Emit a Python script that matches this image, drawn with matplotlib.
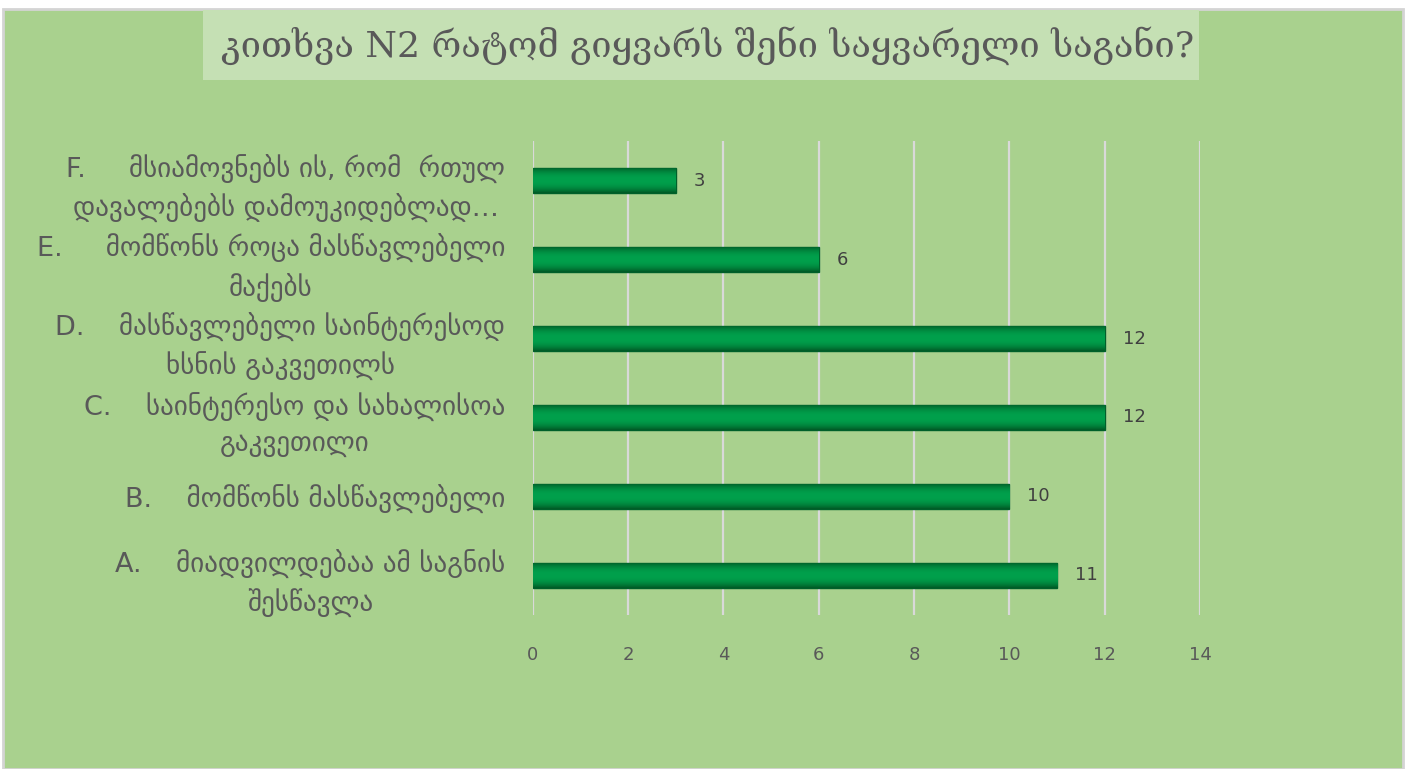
import numpy as np
import matplotlib.pyplot as plt
from matplotlib.patches import Rectangle
from matplotlib.colors import LinearSegmentedColormap

# question N2 - why do you like your favourite subject
categories = [
    "A.    მიადვილდებაა ამ საგნის\nშესწავლა",
    "B.    მომწონს მასწავლებელი",
    "C.    საინტერესო და სახალისოა\nგაკვეთილი",
    "D.    მასწავლებელი საინტერესოდ\nხსნის გაკვეთილს",
    "E.     მომწონს როცა მასწავლებელი\nმაქებს",
    "F.     მსიამოვნებს ის, რომ  რთულ\nდავალებებს დამოუკიდებლად…",
]
values = [11, 10, 12, 12, 6, 3]
xticks = [0, 2, 4, 6, 8, 10, 12, 14]
title = "კითხვა N2 რატომ გიყვარს შენი საყვარელი საგანი?"

plt.rcParams['font.family'] = ['DejaVu Sans']
text_col = '#595959'

fig = plt.figure(figsize=(14.06, 7.69), dpi=100)
fig.patch.set_facecolor('white')

# green chart area with thin grey frame
fig.add_artist(Rectangle((0.002, 0), 0.996, 0.988, transform=fig.transFigure,
                         facecolor='#A9D18E', edgecolor='#D4D4D4', linewidth=2,
                         zorder=-10))
# title box
fig.add_artist(Rectangle((0.1445, 0.896), 0.708, 0.091, transform=fig.transFigure,
                         facecolor='#C5E0B4', edgecolor='none', zorder=-9))
fig.text(0.5035, 0.941, title, ha='center', va='center', fontsize=26,
         color=text_col, family='DejaVu Serif')

ax = fig.add_axes([0.379, 0.2003, 0.4745, 0.6163])
ax.set_facecolor('none')
y = np.arange(len(values))
bars = ax.barh(y, values, height=0.32, color='#00994A', edgecolor='#00602A',
               linewidth=1, zorder=3)

# shaded look of the bars
g = np.linspace(-1, 1, 64)
shade = 1 - np.abs(g) ** 2.2
grad = np.tile(shade[:, None], (1, 200))
cmap = LinearSegmentedColormap.from_list('g', ['#005A25', '#00A04C'])
for b in bars:
    x0, y0 = b.get_x(), b.get_y()
    w, h = b.get_width(), b.get_height()
    im = ax.imshow(grad, cmap=cmap, extent=[x0, x0 + w, y0, y0 + h],
                   aspect='auto', zorder=4, interpolation='bilinear')
    im.set_clip_path(b)

for yi, v in zip(y, values):
    ax.annotate(str(v), (v, yi), xytext=(13, 0), textcoords='offset points',
                va='center', ha='left', fontsize=13, color='#404040')

ax.set_xlim(0, 14)
ax.set_ylim(-0.5, len(values) - 0.5)
ax.set_xticks(xticks)
ax.set_yticks(y)
ax.set_yticklabels(categories, fontsize=19.5, color=text_col,
                   multialignment='center', linespacing=1.45)
ax.tick_params(axis='x', colors=text_col, labelsize=13, length=0, pad=22)
ax.tick_params(axis='y', length=0, pad=20)
ax.grid(axis='x', color='#D9D9D9', linewidth=1.6, zorder=0)
for s in ax.spines.values():
    s.set_visible(False)

fig.savefig('out.png', dpi=100)
